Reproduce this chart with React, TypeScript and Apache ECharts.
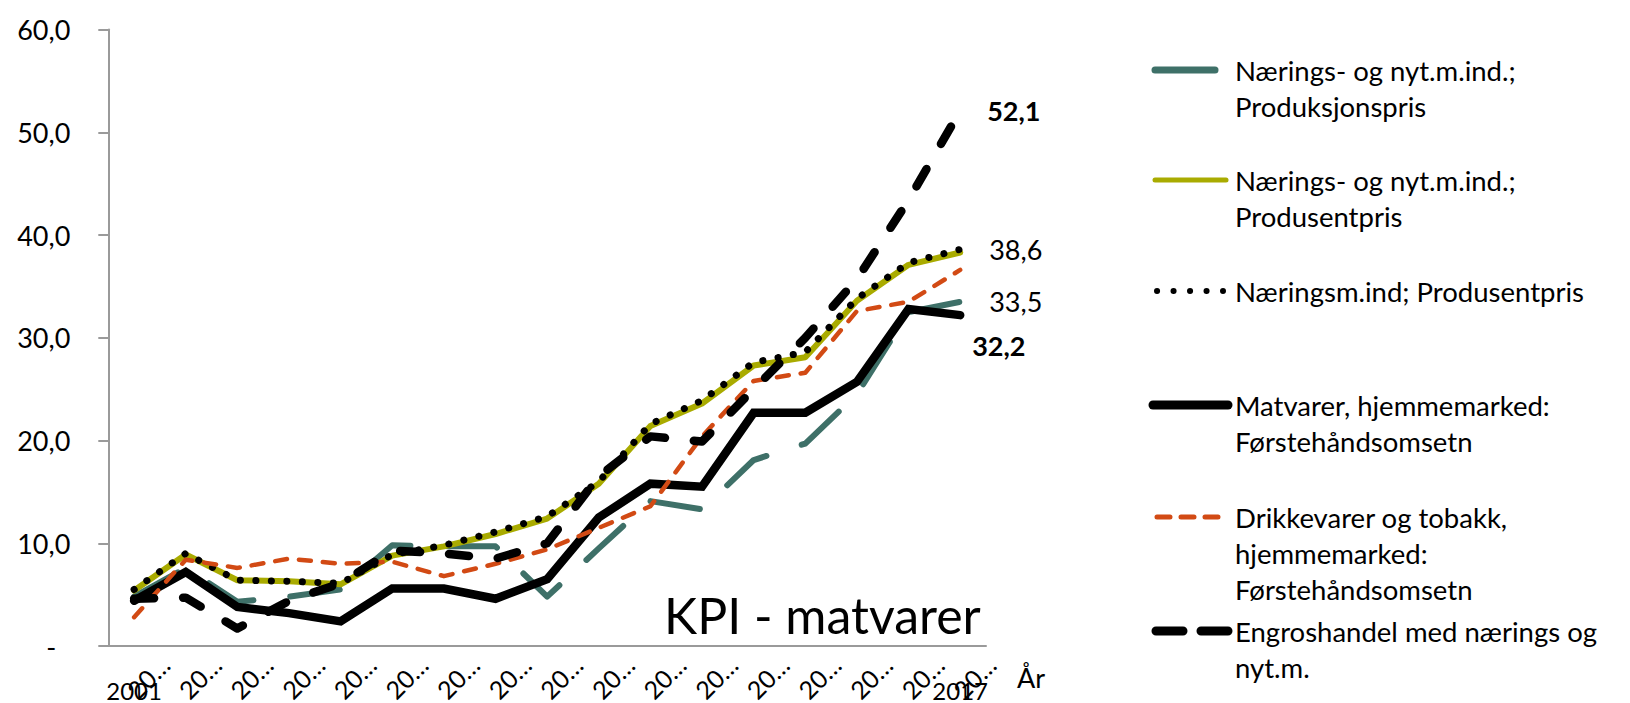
import React, { useEffect, useRef } from "react";
import * as echarts from "echarts";

const years = ["2001", "2002", "2003", "2004", "2005", "2006", "2007", "2008", "2009", "2010", "2011", "2012", "2013", "2014", "2015", "2016", "2017"];

const seriesNames = [
  "Nærings- og nyt.m.ind.;\nProduksjonspris",
  "Nærings- og nyt.m.ind.;\nProdusentpris",
  "Næringsm.ind; Produsentpris",
  "Matvarer, hjemmemarked:\nFørstehåndsomsetn",
  "Drikkevarer og tobakk,\nhjemmemarked:\nFørstehåndsomsetn",
  "Engroshandel med nærings og\nnyt.m.",
];

const produksjonspris = [4.8, 7.6, 4.3, 4.8, 5.5, 9.8, 9.7, 9.7, 4.8, 9.5, 14.1, 13.3, 18.1, 19.7, 24.5, 32.5, 33.5];
const produsentpris = [5.4, 8.9, 6.4, 6.3, 6.0, 8.8, 9.7, 10.9, 12.4, 15.8, 21.4, 23.6, 27.3, 28.1, 33.6, 37.1, 38.3];
const naeringsmProdusentpris = [5.5, 9.0, 6.4, 6.3, 6.1, 8.9, 9.8, 11.1, 12.6, 16.0, 21.6, 23.9, 27.6, 28.6, 33.8, 37.3, 38.6];
const matvarer = [4.4, 7.2, 3.8, 3.2, 2.4, 5.6, 5.6, 4.6, 6.5, 12.5, 15.8, 15.5, 22.7, 22.7, 25.7, 32.8, 32.2];
const drikkevarer = [2.8, 8.4, 7.6, 8.5, 8.0, 8.2, 6.8, 8.0, 9.4, 11.5, 13.6, 20.4, 25.8, 26.6, 32.6, 33.5, 36.6];
const engroshandel = [4.6, 4.7, 1.7, 4.4, 6.1, 9.3, 9.0, 8.5, 10.0, 16.5, 20.4, 19.9, 25.0, 30.0, 35.7, 43.4, 52.1];

const chartTitle = "KPI - matvarer";
const xAxisName = "År";

const FONT = "Lato, 'Open Sans', sans-serif";
const fmt = (v: number) => (v === 0 ? "-" : v.toFixed(1).replace(".", ","));
// Excel shows the year labels cut to two digits and an ellipsis
const shortYear = (v: string) => v.slice(0, 2) + "…";

const colors = ["#3E7068", "#A9AB00", "#000000", "#000000", "#D24A14", "#000000"];

function endLabel(distance: number, offset: number[], bold: boolean) {
  return {
    show: true,
    distance,
    offset,
    fontFamily: FONT,
    fontSize: 27,
    fontWeight: bold ? "bold" : "normal",
    color: "#000",
    formatter: (p: any) => fmt(Array.isArray(p.value) ? p.value[1] : p.value),
  };
}

export default function App() {
  const ref = useRef<HTMLDivElement>(null);
  useEffect(() => {
    const chart = echarts.init(ref.current!, null, { renderer: "svg" });

    const legendY = [70, 180, 291, 405, 517, 631];
    const legendIcons = [
      { x1: 1155, x2: 1215, w: 7, dash: null },
      { x1: 1155, x2: 1226, w: 5, dash: null },
      { x1: 1157, x2: 1223, w: 6, dash: [0.1, 16.4] },
      { x1: 1153, x2: 1228, w: 9, dash: null },
      { x1: 1157, x2: 1219, w: 5, dash: [13, 11] },
      { x1: 1156, x2: 1228, w: 9, dash: [27, 18] },
    ];
    const graphic: any[] = [];
    seriesNames.forEach((name, i) => {
      const ic = legendIcons[i];
      graphic.push({
        type: "line",
        shape: { x1: ic.x1, y1: legendY[i], x2: ic.x2, y2: legendY[i] },
        style: { stroke: colors[i], lineWidth: ic.w, lineDash: ic.dash || undefined, lineCap: "round" },
      });
      graphic.push({
        type: "text",
        x: 1235,
        y: legendY[i] - 18,
        style: { text: name, fontFamily: FONT, fontSize: 27.5, fill: "#000", lineHeight: 36, verticalAlign: "top" },
      });
    });

    const option: any = {
      animation: false,
      backgroundColor: "#fff",
      title: {
        text: chartTitle,
        left: 664,
        top: 590,
        padding: 0,
        textStyle: { fontFamily: FONT, fontSize: 50, fontWeight: "normal", color: "#000" },
      },
      grid: {
        left: 108.3,
        right: 1630 - 986,
        top: 29.5,
        bottom: 703 - 646,
        containLabel: false,
        outerBoundsMode: "none",
      },
      xAxis: [
        {
          type: "category",
          data: years,
          boundaryGap: true,
          name: xAxisName,
          nameLocation: "end",
          nameGap: 31,
          nameTextStyle: { fontFamily: FONT, fontSize: 27, color: "#000", verticalAlign: "top", align: "left", lineHeight: 62 },
          axisLine: { lineStyle: { color: "#9a9a9a", width: 2 } },
          axisTick: { length: 10, lineStyle: { color: "#9a9a9a", width: 2 } },
          splitLine: { show: false },
          axisLabel: { show: false },
        },
        {
          type: "category",
          data: years,
          position: "bottom",
          axisLine: { show: false },
          axisTick: { show: false },
          splitLine: { show: false },
          axisLabel: {
            interval: (i: number) => i === 0 || i === years.length - 1,
            verticalAlign: "middle",
            margin: 44,
            fontFamily: FONT,
            fontSize: 24,
            color: "#000",
          },
        },
      ],
      yAxis: {
        type: "value",
        min: 0,
        max: 60,
        interval: 10,
        axisLine: { show: true, lineStyle: { color: "#9a9a9a", width: 2 } },
        axisTick: { show: true, length: 10, lineStyle: { color: "#9a9a9a", width: 2 } },
        splitLine: { show: false },
        axisLabel: {
          margin: 38,
          fontFamily: FONT,
          fontSize: 27,
          color: "#000",
          formatter: (v: number) => (v === 0 ? "{z|-}" : fmt(v)),
          rich: { z: { fontFamily: FONT, fontSize: 27, color: "#000", padding: [0, 14, 0, 0] } },
        },
      },
      series: [
        {
          name: seriesNames[0].replace("\n", " "),
          type: "line",
          data: produksjonspris,
          symbol: "none",
          lineStyle: { color: colors[0], width: 6, type: [50, 37], cap: "round", join: "round" },
          endLabel: endLabel(29, [0, 0], false),
        },
        {
          name: seriesNames[1].replace("\n", " "),
          type: "line",
          data: produsentpris,
          symbol: "none",
          lineStyle: { color: colors[1], width: 6, type: "solid", cap: "round", join: "round" },
        },
        {
          name: seriesNames[2],
          type: "line",
          data: naeringsmProdusentpris,
          symbol: "none",
          lineStyle: { color: colors[2], width: 7, type: [0.1, 15.4], cap: "round", join: "round" },
          endLabel: endLabel(29, [0, 0], false),
        },
        {
          name: seriesNames[3].replace("\n", " "),
          type: "line",
          data: matvarer,
          symbol: "none",
          lineStyle: { color: colors[3], width: 8.5, type: "solid", cap: "round", join: "miter" },
          endLabel: endLabel(12, [0, 30], true),
        },
        {
          name: seriesNames[4].replace(/\n/g, " "),
          type: "line",
          data: drikkevarer,
          symbol: "none",
          lineStyle: { color: colors[4], width: 4.5, type: [12, 12], cap: "round", join: "round" },
        },
        {
          name: seriesNames[5].replace("\n", " "),
          type: "line",
          data: engroshandel,
          symbol: "none",
          lineStyle: { color: colors[5], width: 8.5, type: [20, 29], cap: "round", join: "round" },
          endLabel: endLabel(27, [0, 0], true),
        },
        {
          name: "xLabels",
          type: "custom",
          silent: true,
          clip: false,
          data: years.map((_, i) => [i]),
          encode: { x: 0 },
          renderItem: (_params: any, api: any) => {
            const idx = api.value(0);
            const p = api.coord([idx, 0]);
            return {
              type: "text",
              x: p[0] + 14,
              y: p[1] + 31,
              rotation: Math.PI / 4,
              style: {
                text: shortYear(years[idx]),
                fontFamily: FONT,
                fontSize: 25,
                fill: "#000",
                align: "center",
                verticalAlign: "middle",
              },
            };
          },
        },
      ],
      graphic,
    };

    chart.setOption(option);
    return () => chart.dispose();
  }, []);

  return (
    <div
      ref={ref}
      style={{ position: "absolute", left: 0, top: 0, width: 1630, height: 703, background: "#fff" }}
    />
  );
}
